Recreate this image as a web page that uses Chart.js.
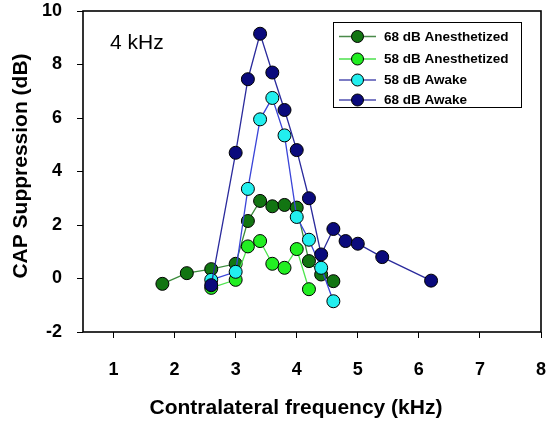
<!DOCTYPE html>
<html>
<head>
<meta charset="utf-8">
<script src="https://cdn.jsdelivr.net/npm/chart.js@4.4.1/dist/chart.umd.min.js"></script>
<style>
html,body{margin:0;padding:0;background:#fff;}
#wrap{width:551px;height:425px;}
</style>
</head>
<body>
<div id="wrap"><canvas id="c" width="551" height="425"></canvas></div>
<script>
// ---- data ----
const seriesNames = ['68 dB Anesthetized', '58 dB Anesthetized', '58 dB Awake', '68 dB Awake'];
const freqAnes68 = [1.8, 2.2, 2.6, 3.0, 3.2, 3.4, 3.6, 3.8, 4.0, 4.2, 4.4, 4.6];
const capAnes68  = [-0.2, 0.2, 0.35, 0.55, 2.15, 2.9, 2.7, 2.75, 2.65, 0.65, 0.15, -0.1];
const freqAnes58 = [2.6, 3.0, 3.2, 3.4, 3.6, 3.8, 4.0, 4.2];
const capAnes58  = [-0.35, -0.05, 1.2, 1.4, 0.55, 0.4, 1.1, -0.4];
const freqAwake58 = [2.6, 3.0, 3.2, 3.4, 3.6, 3.8, 4.0, 4.2, 4.4, 4.6];
const capAwake58  = [-0.05, 0.25, 3.35, 5.95, 6.75, 5.35, 2.3, 1.45, 0.4, -0.85];
const freqAwake68 = [2.6, 3.0, 3.2, 3.4, 3.6, 3.8, 4.0, 4.2, 4.4, 4.6, 4.8, 5.0, 5.4, 6.2];
const capAwake68  = [-0.25, 4.7, 7.45, 9.15, 7.7, 6.3, 4.8, 3.0, 0.9, 1.85, 1.4, 1.3, 0.8, -0.08];
const xTicks = [1, 2, 3, 4, 5, 6, 7, 8];
const yTicks = [-2, 0, 2, 4, 6, 8, 10];
const xTitle = 'Contralateral frequency (kHz)';
const yTitle = 'CAP Suppression (dB)';
const panelLabel = '4 kHz';

// ---- styles ----
const fills = ['#127512', '#22ee22', '#22eeee', '#0a0a7c'];
const lines = ['#3a8a3a', '#4ee44e', '#3a44d8', '#2a2a9c'];
const legendLines = ['#4a8a4a', '#4de04d', '#5050b0', '#5050b0'];
const FONT = 'Arial, "Liberation Sans", sans-serif';

function pts(xs, ys) { return xs.map((x, i) => ({x: x, y: ys[i]})); }
const allX = [freqAnes68, freqAnes58, freqAwake58, freqAwake68];
const allY = [capAnes68, capAnes58, capAwake58, capAwake68];

const datasets = seriesNames.map((name, i) => ({
  label: name,
  data: pts(allX[i], allY[i]),
  borderColor: lines[i],
  borderWidth: 1.3,
  backgroundColor: fills[i],
  pointBackgroundColor: fills[i],
  pointBorderColor: '#000',
  pointBorderWidth: 1,
  pointRadius: 6.5,
  pointHoverRadius: 6.5,
  showLine: true,
  tension: 0,
  clip: false,
  order: 4 - i
}));

const decor = {
  id: 'decor',
  afterDraw(chart) {
    const ctx = chart.ctx;
    const a = chart.chartArea;
    ctx.save();
    // plot frame
    ctx.strokeStyle = '#000';
    ctx.lineWidth = 1.6;
    ctx.strokeRect(a.left, a.top, a.right - a.left, a.bottom - a.top);
    // panel label
    ctx.fillStyle = '#000';
    ctx.font = '21px ' + FONT;
    ctx.textAlign = 'left';
    ctx.textBaseline = 'middle';
    ctx.fillText(panelLabel, 110, 43);
    // axis titles
    ctx.font = 'bold 21px ' + FONT;
    ctx.textAlign = 'center';
    ctx.fillText(xTitle, 296, 408);
    ctx.save();
    ctx.translate(21, 166);
    ctx.rotate(-Math.PI / 2);
    ctx.fillText(yTitle, 0, 0);
    ctx.restore();
    // legend
    const lx = 333, ly = 22, lw = 188, lh = 85;
    ctx.fillStyle = '#fff';
    ctx.fillRect(lx, ly, lw, lh);
    ctx.strokeStyle = '#000';
    ctx.lineWidth = 1;
    ctx.strokeRect(lx + 0.5, ly + 0.5, lw, lh);
    const rows = [36.5, 59, 80, 100];
    chart.data.datasets.forEach((ds, i) => {
      const y = rows[i];
      ctx.strokeStyle = legendLines[i];
      ctx.lineWidth = 1.5;
      ctx.beginPath();
      ctx.moveTo(339, y);
      ctx.lineTo(376, y);
      ctx.stroke();
      ctx.beginPath();
      ctx.arc(357.5, y, 6, 0, Math.PI * 2);
      ctx.fillStyle = fills[i];
      ctx.fill();
      ctx.strokeStyle = '#000';
      ctx.lineWidth = 1;
      ctx.stroke();
      ctx.fillStyle = '#000';
      ctx.font = 'bold 13.5px ' + FONT;
      ctx.textAlign = 'left';
      ctx.textBaseline = 'middle';
      ctx.fillText(ds.label, 384, y + 0.5);
    });
    ctx.restore();
  }
};

new Chart(document.getElementById('c'), {
  type: 'scatter',
  data: { datasets: datasets },
  options: {
    responsive: false,
    animation: false,
    events: [],
    layout: { padding: { top: 11, right: 10, left: 0, bottom: 0 } },
    plugins: { legend: { display: false }, tooltip: { enabled: false }, title: { display: false } },
    scales: {
      x: {
        type: 'linear',
        min: 0.5, max: 8,
        afterFit(s) { s.height = 93; s.paddingLeft = 0; s.paddingRight = 0; },
        afterBuildTicks(s) { s.ticks = xTicks.map(v => ({value: v})); },
        border: { display: false },
        grid: { drawOnChartArea: false, drawTicks: true, tickLength: 6, tickColor: '#000', tickWidth: 1 },
        ticks: { color: '#000', font: { family: FONT, size: 18, weight: 'bold' }, padding: 21, maxRotation: 0, autoSkip: false }
      },
      y: {
        type: 'linear',
        min: -2, max: 10,
        afterFit(s) { s.width = 83; s.paddingTop = 0; s.paddingBottom = 0; },
        afterBuildTicks(s) { s.ticks = yTicks.map(v => ({value: v})); },
        border: { display: false },
        grid: { drawOnChartArea: false, drawTicks: true, tickLength: 6, tickColor: '#000', tickWidth: 1 },
        ticks: { color: '#000', font: { family: FONT, size: 18, weight: 'bold' }, padding: 15 }
      }
    }
  },
  plugins: [decor]
});
</script>
</body>
</html>
